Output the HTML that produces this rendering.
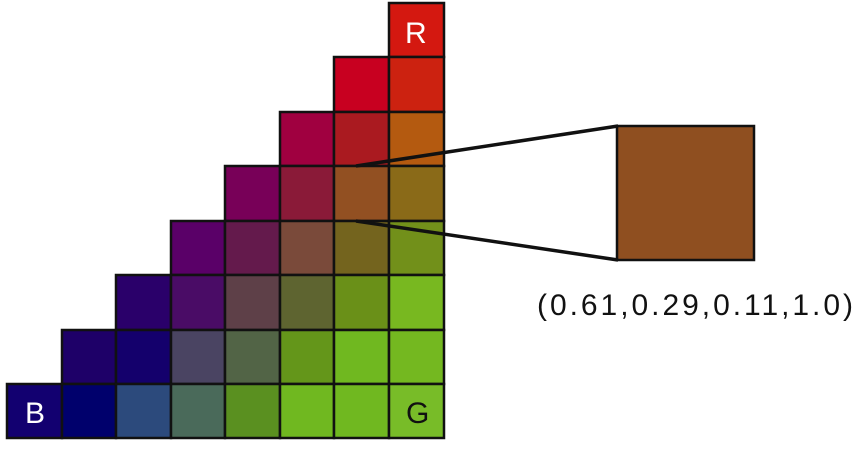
<!DOCTYPE html>
<html><head><meta charset="utf-8"><style>
html,body{margin:0;padding:0;background:#fff;width:859px;height:451px;overflow:hidden}
</style></head><body>
<svg width="859" height="451" xmlns="http://www.w3.org/2000/svg">
<g stroke="#111" stroke-width="2.5">
<rect x="389" y="3" width="55" height="54" fill="#d41810"/>
<rect x="334" y="57" width="55" height="55" fill="#c80020"/>
<rect x="389" y="57" width="55" height="55" fill="#cc2210"/>
<rect x="280" y="112" width="54" height="54" fill="#a00040"/>
<rect x="334" y="112" width="55" height="54" fill="#aa1a20"/>
<rect x="389" y="112" width="55" height="54" fill="#b45a10"/>
<rect x="225" y="166" width="55" height="55" fill="#780058"/>
<rect x="280" y="166" width="54" height="55" fill="#8a1a38"/>
<rect x="334" y="166" width="55" height="55" fill="#925022"/>
<rect x="389" y="166" width="55" height="55" fill="#8a6a18"/>
<rect x="171" y="221" width="54" height="54" fill="#5a0068"/>
<rect x="225" y="221" width="55" height="54" fill="#641a4c"/>
<rect x="280" y="221" width="54" height="54" fill="#7a4a3a"/>
<rect x="334" y="221" width="55" height="54" fill="#74641e"/>
<rect x="389" y="221" width="55" height="54" fill="#72901a"/>
<rect x="116" y="275" width="55" height="55" fill="#2a006a"/>
<rect x="171" y="275" width="54" height="55" fill="#4a0c66"/>
<rect x="225" y="275" width="55" height="55" fill="#5e4048"/>
<rect x="280" y="275" width="54" height="55" fill="#5e6430"/>
<rect x="334" y="275" width="55" height="55" fill="#6a9018"/>
<rect x="389" y="275" width="55" height="55" fill="#78b820"/>
<rect x="62" y="330" width="54" height="54" fill="#1e0068"/>
<rect x="116" y="330" width="55" height="54" fill="#14006c"/>
<rect x="171" y="330" width="54" height="54" fill="#4a4462"/>
<rect x="225" y="330" width="55" height="54" fill="#526446"/>
<rect x="280" y="330" width="54" height="54" fill="#64961a"/>
<rect x="334" y="330" width="55" height="54" fill="#70b820"/>
<rect x="389" y="330" width="55" height="54" fill="#74b820"/>
<rect x="7" y="384" width="55" height="54" fill="#120070"/>
<rect x="62" y="384" width="54" height="54" fill="#00006c"/>
<rect x="116" y="384" width="55" height="54" fill="#2c4a7c"/>
<rect x="171" y="384" width="54" height="54" fill="#4a6a5a"/>
<rect x="225" y="384" width="55" height="54" fill="#5a9020"/>
<rect x="280" y="384" width="54" height="54" fill="#70b820"/>
<rect x="334" y="384" width="55" height="54" fill="#70b820"/>
<rect x="389" y="384" width="55" height="54" fill="#78bc28"/>
<rect x="617" y="126" width="137" height="134" fill="#8f4f20"/>
</g>
<g stroke="#111" stroke-width="3.5" fill="none">
<line x1="356" y1="166" x2="618" y2="126"/>
<line x1="356" y1="221" x2="618" y2="260"/>
</g>
<g font-family="Liberation Sans, sans-serif" font-size="30">
<text x="405" y="43" fill="#fff">R</text>
<text x="25" y="423" fill="#fff">B</text>
<text x="406" y="423" fill="#111">G</text>
</g>
<text x="537" y="315" font-family="Liberation Sans, sans-serif" font-size="30" textLength="316" lengthAdjust="spacing" fill="#111">(0.61,0.29,0.11,1.0)</text>
</svg>
</body></html>
